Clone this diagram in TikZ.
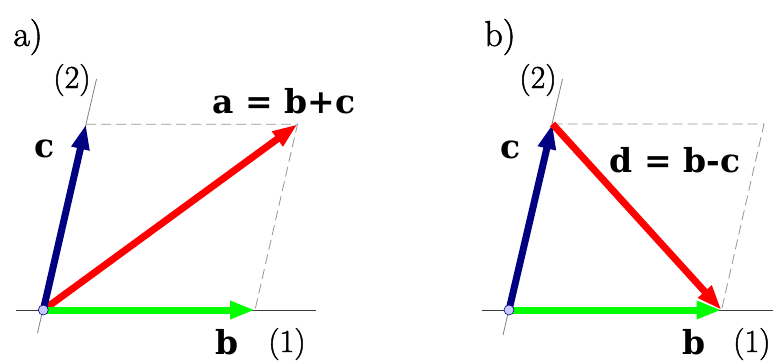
\documentclass[tikz,border=0pt]{standalone}
\usepackage{fontspec}
\newfontfamily\lblbold{DejaVu Serif}
\newfontfamily\regfont{Latin Modern Roman}[FakeBold=1.4]
\usetikzlibrary{arrows.meta}
\definecolor{navy}{RGB}{0,0,128}
\definecolor{vgreen}{RGB}{0,255,0}
\definecolor{vred}{RGB}{255,0,0}
\definecolor{dotfill}{RGB}{200,200,255}
\definecolor{axisgray}{RGB}{60,60,60}
\definecolor{dashgray}{RGB}{150,150,150}
\begin{document}
\begin{tikzpicture}[x=1pt,y=-1pt,
 vec/.style={line width=7pt, -{Triangle[length=25pt,width=17pt]}},
 axisline/.style={draw=axisgray, line width=0.8pt},
 guide/.style={draw=dashgray, line width=0.8pt, dash pattern=on 10pt off 5pt},
 dot/.style={circle, draw=navy, line width=0.6pt, fill=dotfill, minimum size=10pt, inner sep=0pt},
 lbl/.style={inner sep=0pt, anchor=base, font=\regfont\fontsize{32}{38}\selectfont},
 panel/.style={inner sep=0pt, anchor=base, font=\regfont\fontsize{36}{42}\selectfont},
 bl/.style={inner sep=0pt, anchor=base, font=\lblbold\bfseries\fontsize{33}{38}\selectfont},
]
\fill[white] (0,0) rectangle (773,361);
\useasboundingbox (0,0) rectangle (773,361);

% ---------- panel a ----------
\coordinate (O1) at (43.3,310);
\coordinate (B1) at (255,310);
\coordinate (C1) at (86,124.3);
\coordinate (A1) at (297.5,124.3);
\coordinate (X1s) at (16,310);
\coordinate (X1e) at (316,310);
\coordinate (Y1s) at (37.5,333);
\coordinate (Y1e) at (96.5,79);

\draw[axisline] (X1s) -- (X1e);
\draw[axisline, draw=gray] (Y1s) -- (Y1e);
\draw[guide] (C1) -- (A1) -- (B1);
\draw[vec, vred] (O1) -- (A1);
\draw[vec, vgreen] (O1) -- (B1);
\draw[vec, navy] (O1) -- (C1);
\node[dot] (o1) at (O1) {};

\node[panel] (la) at (28,46) {a)};
\node[lbl] (l2a) at (72,88) {(2)};
\node[lbl] (l1a) at (287,352) {(1)};
\node[bl] (lca) at (45,157) {c};
\node[bl] (lba) at (227,354) {b};
\node[bl] (lsum) at (284,113) {a = b+c};

% ---------- panel b ----------
\coordinate (O2) at (509,310);
\coordinate (B2) at (721.5,310);
\coordinate (C2) at (552.5,124);
\coordinate (D2) at (764,124);
\coordinate (X2s) at (482,310);
\coordinate (X2e) at (773,310);
\coordinate (Y2s) at (503,335);
\coordinate (Y2e) at (562.5,79);

\draw[axisline] (X2s) -- (X2e);
\draw[axisline, draw=gray] (Y2s) -- (Y2e);
\draw[guide] (C2) -- (D2) -- (B2);
\draw[vec, vgreen] (O2) -- (B2);
\draw[vec, navy] (O2) -- (C2);
\draw[vec, vred] (C2) -- (B2);
\node[dot] (o2) at (O2) {};

\node[panel] (lb) at (500,46) {b)};
\node[lbl] (l2b) at (538,88) {(2)};
\node[lbl, anchor=base west] (l1b) at (733,352) {(1)};
\node[bl] (lcb) at (511,158) {c};
\node[bl] (lbb) at (694,354) {b};
\node[bl] (ldiff) at (675,172) {d = b-c};
\end{tikzpicture}
\end{document}
